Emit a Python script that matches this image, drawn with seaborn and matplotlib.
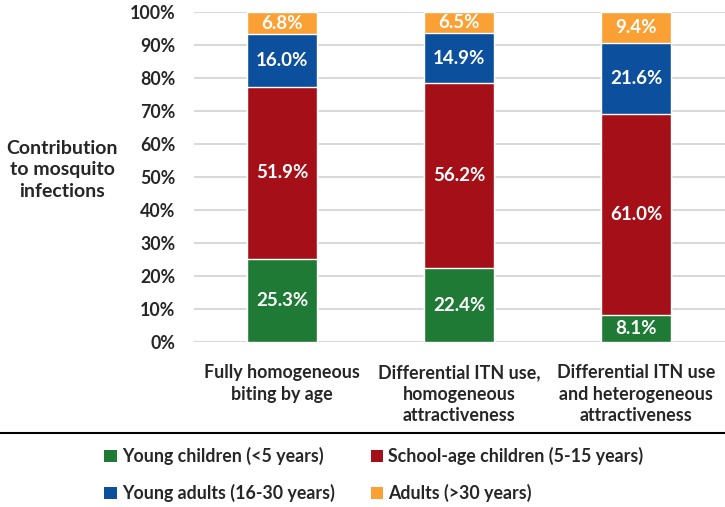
import numpy as np
import pandas as pd
import matplotlib.pyplot as plt
import seaborn as sns
from matplotlib.lines import Line2D
from matplotlib.patches import Patch

scenarios = [
    "Fully homogeneous\nbiting by age",
    "Differential ITN use,\nhomogeneous\nattractiveness",
    "Differential ITN use\nand heterogeneous\nattractiveness",
]
groups = [
    "Young children (<5 years)",
    "School-age children (5-15 years)",
    "Young adults (16-30 years)",
    "Adults (>30 years)",
]
young_children = [25.3, 22.4, 8.1]
school_age = [51.9, 56.2, 61.0]
young_adults = [16.0, 14.9, 21.6]
adults = [6.8, 6.5, 9.4]
yticks = [0, 10, 20, 30, 40, 50, 60, 70, 80, 90, 100]

colors = ["#1E7A35", "#A50F17", "#0C4F9C", "#FBA035"]

sns.set_style("white")
plt.rcParams["font.family"] = ["Lato", "DejaVu Sans"]
plt.rcParams["font.weight"] = "bold"

series = [young_children, school_age, young_adults, adults]
cum = np.cumsum(np.array(series), axis=0)
cum[-1] = np.minimum(cum[-1], 100)

fig = plt.figure(figsize=(7.25, 5.07), dpi=100)
ax = fig.add_axes([0.267, 0.3254, 0.733, 0.651])

# stacked bars: draw cumulative totals from the top layer down
for i in range(len(series) - 1, -1, -1):
    df = pd.DataFrame({"scenario": scenarios, "value": cum[i]})
    sns.barplot(data=df, x="scenario", y="value", color=colors[i],
                width=0.395, saturation=1, ax=ax, zorder=3)

for i, vals in enumerate(series):
    for j, v in enumerate(vals):
        ax.text(j, cum[i][j] - v / 2, f"{v:.1f}%", ha="center", va="center",
                color="white", fontsize=13.5, fontweight="bold", zorder=4)

ax.set_ylim(0, 100)
ax.set_xlim(-0.5, 2.5)
ax.set_yticks(yticks)
ax.set_yticklabels([f"{t}%" for t in yticks], fontsize=12.8, fontweight="bold")
ax.set_xticks(range(len(scenarios)))
ax.set_xticklabels(scenarios, fontsize=12.9, fontweight="bold", linespacing=1.32)
ax.tick_params(axis="y", length=0, pad=13)
ax.tick_params(axis="x", length=0, pad=16)
ax.set_xlabel("")
ax.set_ylabel("")
ax.grid(axis="y", color="#D9D9D9", linewidth=1.5, zorder=0)
sns.despine(ax=ax, left=True, bottom=True)

fig.text(0.086, 0.665, "Contribution\nto mosquito\ninfections", ha="center",
         va="center", fontsize=14, fontweight="bold", linespacing=1.3)

fig.add_artist(Line2D([0, 1], [0.146, 0.146], color="black", linewidth=1.5,
                      transform=fig.transFigure))

# legend fills column-wise, so reorder to get the reference's row layout
order = [0, 2, 1, 3]
handles = [Patch(facecolor=colors[k], edgecolor="none") for k in order]
labels = [groups[k] for k in order]
fig.legend(handles, labels, loc="center left", bbox_to_anchor=(0.122, 0.064),
           ncol=2, frameon=False, handlelength=0.7, handleheight=0.7,
           handletextpad=0.3, columnspacing=2.0, labelspacing=1.05,
           prop={"weight": "bold", "size": 12.8})

fig.savefig("out.png", dpi=100)
